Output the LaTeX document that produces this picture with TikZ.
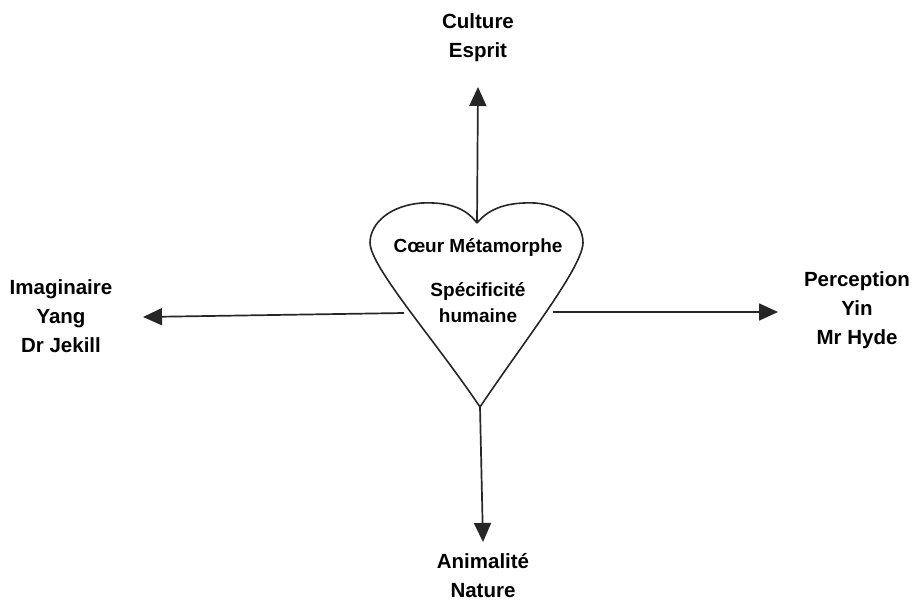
\documentclass[tikz,border=0pt]{standalone}
\usepackage{fontspec}
\setmainfont{Liberation Sans}
\usetikzlibrary{arrows.meta}
\begin{document}
\begin{tikzpicture}[x=1pt,y=-1pt,
  lbl/.style={font=\fontsize{20.5}{29}\selectfont\bfseries,align=center,inner sep=0pt},
  hlbl/.style={font=\fontsize{19}{26}\selectfont\bfseries,align=center,inner sep=0pt},
  axis/.style={line width=1.7pt,draw=black!85,-{Triangle[length=19pt,width=17pt]}},
  heartline/.style={line width=1.6pt,draw=black!85}]
\useasboundingbox[fill=white] (0,0) rectangle (912,602);
% heart
\coordinate (notch) at (477,223);
\coordinate (tip) at (480,407);
\draw[heartline] (notch) .. controls (465,207) and (447,202) .. (422,203)
  .. controls (392,205) and (370,222) .. (370,243)
  .. controls (371,268) and (435,340) .. (tip)
  .. controls (525,340) and (582,268) .. (583,243)
  .. controls (583,222) and (563,205) .. (535,203)
  .. controls (510,202) and (490,207) .. (notch);
\coordinate (hl) at (404,313);
\coordinate (hr) at (553,312);
% heart text
\node[hlbl] (coeur) at (478,248) {Cœur Métamorphe};
\node[hlbl] (spec) at (478,303) {Spécificité\\humaine};
% labels
\node[lbl] (top) at (478,38) {Culture\\Esprit};
\node[lbl] (bot) at (483,576) {Animalité\\Nature};
\node[lbl] (left) at (61,316) {Imaginaire\\Yang\\Dr Jekill};
\node[lbl] (right) at (857,310) {Perception\\Yin\\Mr Hyde};
% arrow tips
\coordinate (ttop) at (478,87);
\coordinate (tbot) at (483,542);
\coordinate (tleft) at (143,317);
\coordinate (tright) at (778,312);
\draw[axis] (notch) -- (ttop);
\draw[axis] (tip) -- (tbot);
\draw[axis] (hl) -- (tleft);
\draw[axis] (hr) -- (tright);
\end{tikzpicture}
\end{document}
